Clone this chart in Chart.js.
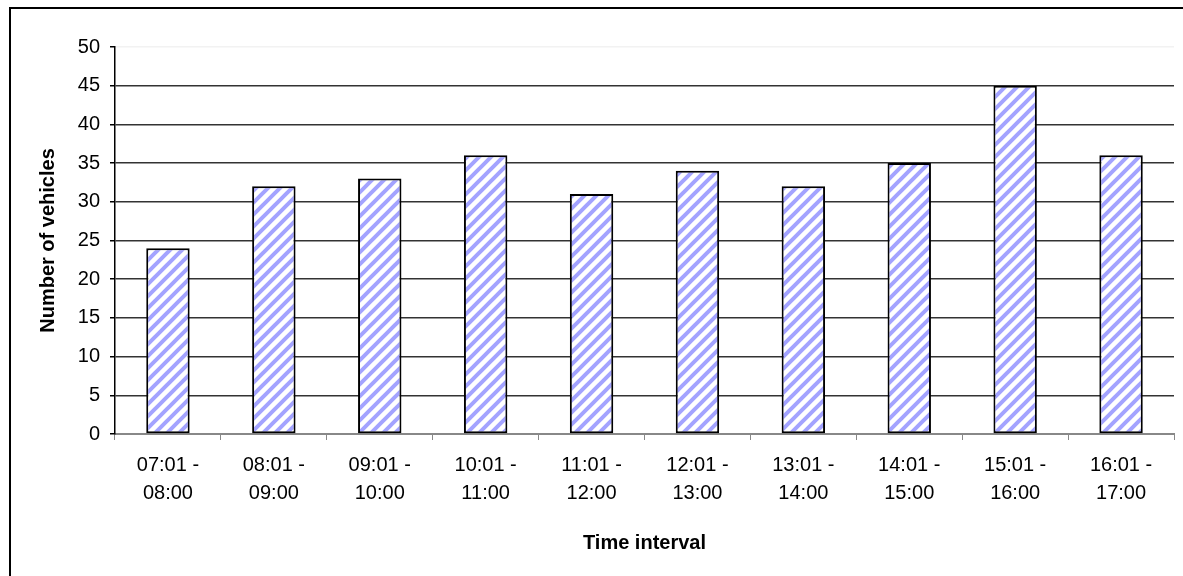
<!DOCTYPE html>
<html>
<head>
<meta charset="utf-8">
<script src="https://cdn.jsdelivr.net/npm/chart.js@4/dist/chart.umd.min.js"></script>
<style>
  html, body { margin: 0; padding: 0; background: #fff; }
  #wrap { position: relative; width: 1183px; height: 576px; overflow: hidden; }
  #frame { position: absolute; left: 9px; top: 7px; width: 1300px; height: 700px;
           border-left: 2px solid #000; border-top: 2px solid #000; }
  canvas { position: absolute; left: 0; top: 0; }
</style>
</head>
<body>
<div id="wrap">
  <div id="frame"></div>
  <canvas id="vehicle_chart" width="1183" height="576"></canvas>
</div>
<script>
// hourly counts
var interval_labels = [
    ['07:01 -', '08:00'], ['08:01 -', '09:00'], ['09:01 -', '10:00'],
    ['10:01 -', '11:00'], ['11:01 -', '12:00'], ['12:01 -', '13:00'],
    ['13:01 -', '14:00'], ['14:01 -', '15:00'], ['15:01 -', '16:00'],
    ['16:01 -', '17:00']
]
var vehicle_counts = [24, 32, 33, 36, 31, 34, 32, 35, 45, 36]
var y_min = 0
var y_max = 50
var y_step = 5

// diagonal hatch like the Excel fill
function makeHatch() {
    var size = 12
    var c = document.createElement('canvas')
    c.width = size
    c.height = size
    var g = c.getContext('2d')
    g.fillStyle = '#ffffff'
    g.fillRect(0, 0, size, size)
    g.strokeStyle = '#a3a3ff'
    g.lineWidth = 4
    g.beginPath()
    g.moveTo(-2, size + 2); g.lineTo(size + 2, -2)
    g.moveTo(-3, 3); g.lineTo(3, -3)
    g.moveTo(size - 3, size + 3); g.lineTo(size + 3, size - 3)
    g.stroke()
    return g.createPattern(c, 'repeat')
}

var font_family = '"Liberation Sans", Arial, sans-serif'

const config = {
    type: 'bar',
    data: {
        labels: interval_labels,
        datasets: [{
            data: vehicle_counts,
            backgroundColor: makeHatch(),
            borderColor: '#000',
            borderWidth: 2,
            borderSkipped: false,
            barPercentage: 0.41,
            categoryPercentage: 1
        }]
    },
    options: {
        responsive: false,
        devicePixelRatio: 1,
        animation: false,
        layout: { padding: { left: 0, top: 47, right: 9, bottom: 0 } },
        plugins: {
            legend: { display: false },
            tooltip: { enabled: false }
        },
        scales: {
            x: {
                afterFit: function (scale) { scale.height = 142 },
                grid: {
                    offset: true,
                    drawOnChartArea: false,
                    drawTicks: true,
                    tickLength: 6,
                    color: '#888'
                },
                border: { display: true, color: '#888', width: 2 },
                ticks: {
                    color: '#000',
                    padding: 11,
                    maxRotation: 0,
                    autoSkip: false,
                    font: { family: font_family, size: 20, lineHeight: 1.4 }
                },
                title: {
                    display: true,
                    text: 'Time interval',
                    color: '#000',
                    padding: { top: 0, bottom: 21 },
                    font: { family: font_family, size: 20, weight: 'bold' }
                }
            },
            y: {
                min: y_min,
                max: y_max,
                afterFit: function (scale) { scale.width = 115 },
                grid: {
                    color: function (ctx) {
                        return ctx.tick && ctx.tick.value === y_max ? '#f2f2f2' : '#333'
                    },
                    tickColor: '#000',
                    tickLength: 5,
                    lineWidth: 1.5
                },
                border: { display: true, color: '#000', width: 1.5 },
                ticks: {
                    stepSize: y_step,
                    color: '#000',
                    padding: 10,
                    font: { family: font_family, size: 20 }
                },
                title: {
                    display: true,
                    text: 'Number of vehicles',
                    color: '#000',
                    padding: { top: 36, bottom: 0 },
                    font: { family: font_family, size: 20, weight: 'bold' }
                }
            }
        }
    }
};

const myChart = new Chart(document.getElementById('vehicle_chart'), config);
</script>
</body>
</html>
